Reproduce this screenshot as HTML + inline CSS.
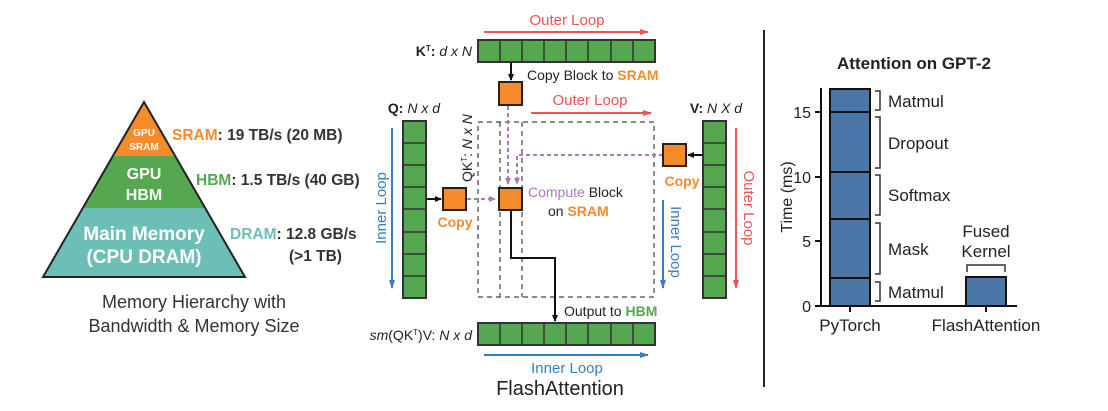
<!DOCTYPE html>
<html><head><meta charset="utf-8"><style>
html,body{margin:0;padding:0;background:#fff;width:1108px;height:411px;overflow:hidden}
text{font-family:"Liberation Sans",sans-serif}
</style></head><body>
<svg width="1108" height="411" viewBox="0 0 1108 411" xmlns="http://www.w3.org/2000/svg">
<defs>
<marker id="ab" markerWidth="8" markerHeight="8" refX="6" refY="3" orient="auto" markerUnits="userSpaceOnUse"><path d="M0,0 L7,3 L0,6z" fill="#111"/></marker>
<marker id="ar" markerWidth="10" markerHeight="8" refX="8" refY="3" orient="auto" markerUnits="userSpaceOnUse"><path d="M0,0 L9,3 L0,6z" fill="#F05153"/></marker>
<marker id="au" markerWidth="10" markerHeight="8" refX="8" refY="3" orient="auto" markerUnits="userSpaceOnUse"><path d="M0,0 L9,3 L0,6z" fill="#3A7DBF"/></marker>
<marker id="ap" markerWidth="8" markerHeight="8" refX="6" refY="3" orient="auto" markerUnits="userSpaceOnUse"><path d="M0,0 L7,3 L0,6z" fill="#A97BB8"/></marker>
</defs>
<!-- Pyramid -->
<polygon points="144,102 175,156 113,156" fill="#F68B2C"/>
<polygon points="113,156 175,156 205,208 84,208" fill="#55A84F"/>
<polygon points="84,208 205,208 245,277 43,277" fill="#6CBFB6"/>
<polygon points="144,102 245,277 43,277" fill="none" stroke="#222" stroke-width="2"/>
<g fill="#fff" font-weight="bold" text-anchor="middle">
<text x="144" y="136" font-size="10">GPU</text><text x="144" y="150" font-size="10">SRAM</text>
<text x="144" y="179" font-size="16">GPU</text><text x="144" y="200" font-size="16">HBM</text>
<text x="144" y="240" font-size="19">Main Memory</text><text x="144" y="263" font-size="19">(CPU DRAM)</text>
</g>
<g font-size="15.5" font-weight="bold" fill="#333">
<text x="172" y="140"><tspan fill="#F68B2C">SRAM</tspan>: 19 TB/s (20 MB)</text>
<text x="196" y="185"><tspan fill="#55A84F">HBM</tspan>: 1.5 TB/s (40 GB)</text>
<text x="230" y="239"><tspan fill="#6CBFB6">DRAM</tspan>: 12.8 GB/s</text>
<text x="289" y="261">(&gt;1 TB)</text>
</g>
<g font-size="18" fill="#333" text-anchor="middle">
<text x="194" y="308">Memory Hierarchy with</text>
<text x="194" y="332">Bandwidth &amp; Memory Size</text>
</g>
<!-- Middle -->
<text x="567" y="25" font-size="15" fill="#F05153" text-anchor="middle">Outer Loop</text>
<line x1="484" y1="32" x2="648" y2="32" stroke="#F05153" stroke-width="2" marker-end="url(#ar)"/>
<g stroke="#333" stroke-width="2" fill="#55A84F">
<rect x="478" y="40" width="177" height="22"/>
<rect x="478" y="323" width="177" height="22"/>
<rect x="403" y="121" width="23" height="177"/>
<rect x="703" y="121" width="23" height="177"/>
</g>
<g stroke="#333" stroke-width="1.5">
<line x1="500" y1="40" x2="500" y2="62"/><line x1="522" y1="40" x2="522" y2="62"/><line x1="544" y1="40" x2="544" y2="62"/><line x1="566" y1="40" x2="566" y2="62"/><line x1="588" y1="40" x2="588" y2="62"/><line x1="611" y1="40" x2="611" y2="62"/><line x1="633" y1="40" x2="633" y2="62"/>
<line x1="500" y1="323" x2="500" y2="345"/><line x1="522" y1="323" x2="522" y2="345"/><line x1="544" y1="323" x2="544" y2="345"/><line x1="566" y1="323" x2="566" y2="345"/><line x1="588" y1="323" x2="588" y2="345"/><line x1="611" y1="323" x2="611" y2="345"/><line x1="633" y1="323" x2="633" y2="345"/>
<line x1="403" y1="143" x2="426" y2="143"/><line x1="403" y1="165" x2="426" y2="165"/><line x1="403" y1="187" x2="426" y2="187"/><line x1="403" y1="209" x2="426" y2="209"/><line x1="403" y1="232" x2="426" y2="232"/><line x1="403" y1="254" x2="426" y2="254"/><line x1="403" y1="276" x2="426" y2="276"/>
<line x1="703" y1="143" x2="726" y2="143"/><line x1="703" y1="165" x2="726" y2="165"/><line x1="703" y1="187" x2="726" y2="187"/><line x1="703" y1="209" x2="726" y2="209"/><line x1="703" y1="232" x2="726" y2="232"/><line x1="703" y1="254" x2="726" y2="254"/><line x1="703" y1="276" x2="726" y2="276"/>
</g>
<g font-size="14" fill="#222">
<text x="472" y="56" text-anchor="end"><tspan font-weight="bold">K<tspan font-size="8" dy="-5">T</tspan><tspan dy="5">:</tspan></tspan> <tspan font-style="italic">d x N</tspan></text>
<text x="472" y="340" text-anchor="end" font-style="italic">sm<tspan font-style="normal">(QK<tspan font-size="8" dy="-5">T</tspan><tspan dy="5">)V:</tspan></tspan> N x d</text>
<text x="414" y="113" text-anchor="middle"><tspan font-weight="bold">Q:</tspan> <tspan font-style="italic">N x d</tspan></text>
<text x="716" y="113" text-anchor="middle"><tspan font-weight="bold">V:</tspan> <tspan font-style="italic">N X d</tspan></text>
<text x="527" y="80">Copy Block to <tspan fill="#F68B2C" font-weight="bold">SRAM</tspan></text>
<text x="528" y="197"><tspan fill="#A97BB8">Compute</tspan> Block</text>
<text x="548" y="216">on <tspan fill="#F68B2C" font-weight="bold">SRAM</tspan></text>
<text x="564" y="316">Output to <tspan fill="#55A84F" font-weight="bold">HBM</tspan></text>
<text transform="translate(472,182) rotate(-90)">QK<tspan font-size="8" dy="-5">T</tspan><tspan dy="5">:</tspan> <tspan font-style="italic">N x N</tspan></text>
</g>
<text x="590" y="105" font-size="15" fill="#F05153" text-anchor="middle">Outer Loop</text>
<line x1="531" y1="113" x2="651" y2="113" stroke="#F05153" stroke-width="2" marker-end="url(#ar)"/>
<g fill="none" stroke="#444" stroke-width="1.2" stroke-dasharray="5,4">
<rect x="478" y="122" width="176" height="175"/>
<line x1="500" y1="122" x2="500" y2="297"/><line x1="522" y1="122" x2="522" y2="297"/>
</g>
<g fill="none" stroke="#A97BB8" stroke-width="2" stroke-dasharray="4,3">
<line x1="508" y1="106" x2="508" y2="184" marker-end="url(#ap)"/>
<polyline points="663,155 517,155 517,184" marker-end="url(#ap)"/>
<line x1="467" y1="199" x2="495" y2="199" marker-end="url(#ap)"/>
</g>
<g stroke="#111" stroke-width="2" fill="none">
<line x1="511" y1="62" x2="511" y2="80" marker-end="url(#ab)"/>
<line x1="426" y1="199" x2="441" y2="199" marker-end="url(#ab)"/>
<line x1="703" y1="155" x2="688" y2="155" marker-end="url(#ab)"/>
<polyline points="511,210 511,258 555,258 555,321" marker-end="url(#ab)"/>
</g>
<g fill="#F68B2C" stroke="#222" stroke-width="2">
<rect x="499" y="82" width="23" height="23"/>
<rect x="443" y="188" width="23" height="22"/>
<rect x="499" y="188" width="23" height="22"/>
<rect x="663" y="144" width="23" height="22"/>
</g>
<text x="455" y="227" font-size="14" font-weight="bold" fill="#F68B2C" text-anchor="middle">Copy</text>
<text x="682" y="186" font-size="14" font-weight="bold" fill="#F68B2C" text-anchor="middle">Copy</text>
<line x1="392" y1="128" x2="392" y2="288" stroke="#3A7DBF" stroke-width="2" marker-end="url(#au)"/>
<text transform="translate(386,208) rotate(-90)" font-size="15" fill="#3A7DBF" text-anchor="middle">Inner Loop</text>
<line x1="663" y1="200" x2="663" y2="288" stroke="#3A7DBF" stroke-width="2" marker-end="url(#au)"/>
<text transform="translate(671,242) rotate(90)" font-size="15" fill="#3A7DBF" text-anchor="middle">Inner Loop</text>
<line x1="736" y1="128" x2="736" y2="288" stroke="#F05153" stroke-width="2" marker-end="url(#ar)"/>
<text transform="translate(744,208) rotate(90)" font-size="15" fill="#F05153" text-anchor="middle">Outer Loop</text>
<line x1="484" y1="355" x2="648" y2="355" stroke="#3A7DBF" stroke-width="2" marker-end="url(#au)"/>
<text x="567" y="373" font-size="15" fill="#3A7DBF" text-anchor="middle">Inner Loop</text>
<text x="560" y="395" font-size="20" fill="#222" text-anchor="middle">FlashAttention</text>
<line x1="764" y1="30" x2="764" y2="387" stroke="#222" stroke-width="2"/>
<!-- Chart -->
<text x="914" y="69" font-size="17" font-weight="bold" fill="#222" text-anchor="middle">Attention on GPT-2</text>
<g stroke="#111" stroke-width="2">
<line x1="821" y1="88" x2="821" y2="306"/><line x1="820" y1="306" x2="1017" y2="306"/>
<line x1="815" y1="306" x2="821" y2="306"/><line x1="815" y1="241" x2="821" y2="241"/><line x1="815" y1="177" x2="821" y2="177"/><line x1="815" y1="112" x2="821" y2="112"/>
<line x1="850" y1="306" x2="850" y2="312"/><line x1="986" y1="306" x2="986" y2="312"/>
</g>
<g font-size="16" fill="#222" text-anchor="end">
<text x="811" y="312">0</text><text x="811" y="247">5</text><text x="811" y="183">10</text><text x="811" y="118">15</text>
</g>
<text transform="translate(792,197) rotate(-90)" font-size="16" fill="#222" text-anchor="middle">Time (ms)</text>
<g fill="#4A76A8" stroke="#111" stroke-width="2">
<rect x="830" y="89" width="40" height="217"/>
<rect x="966" y="277" width="40" height="29"/>
</g>
<g stroke="#111" stroke-width="2">
<line x1="830" y1="112" x2="870" y2="112"/><line x1="830" y1="172" x2="870" y2="172"/><line x1="830" y1="219" x2="870" y2="219"/><line x1="830" y1="278" x2="870" y2="278"/>
</g>
<g fill="none" stroke="#333" stroke-width="1.5">
<polyline points="875,91 880,91 880,110 875,110"/>
<polyline points="875,117 880,117 880,168 875,168"/>
<polyline points="875,175 880,175 880,215 875,215"/>
<polyline points="875,223 880,223 880,274 875,274"/>
<polyline points="875,282 880,282 880,301 875,301"/>
<polyline points="967,272 967,265 1005,265 1005,272"/>
</g>
<g font-size="17" fill="#222">
<text x="888" y="107">Matmul</text><text x="888" y="149">Dropout</text><text x="888" y="201">Softmax</text><text x="888" y="255">Mask</text><text x="888" y="298">Matmul</text>
</g>
<g font-size="17" fill="#222" text-anchor="middle">
<text x="986" y="237">Fused</text><text x="986" y="257">Kernel</text>
<text x="850" y="331">PyTorch</text><text x="986" y="331">FlashAttention</text>
</g>
</svg>
</body></html>
